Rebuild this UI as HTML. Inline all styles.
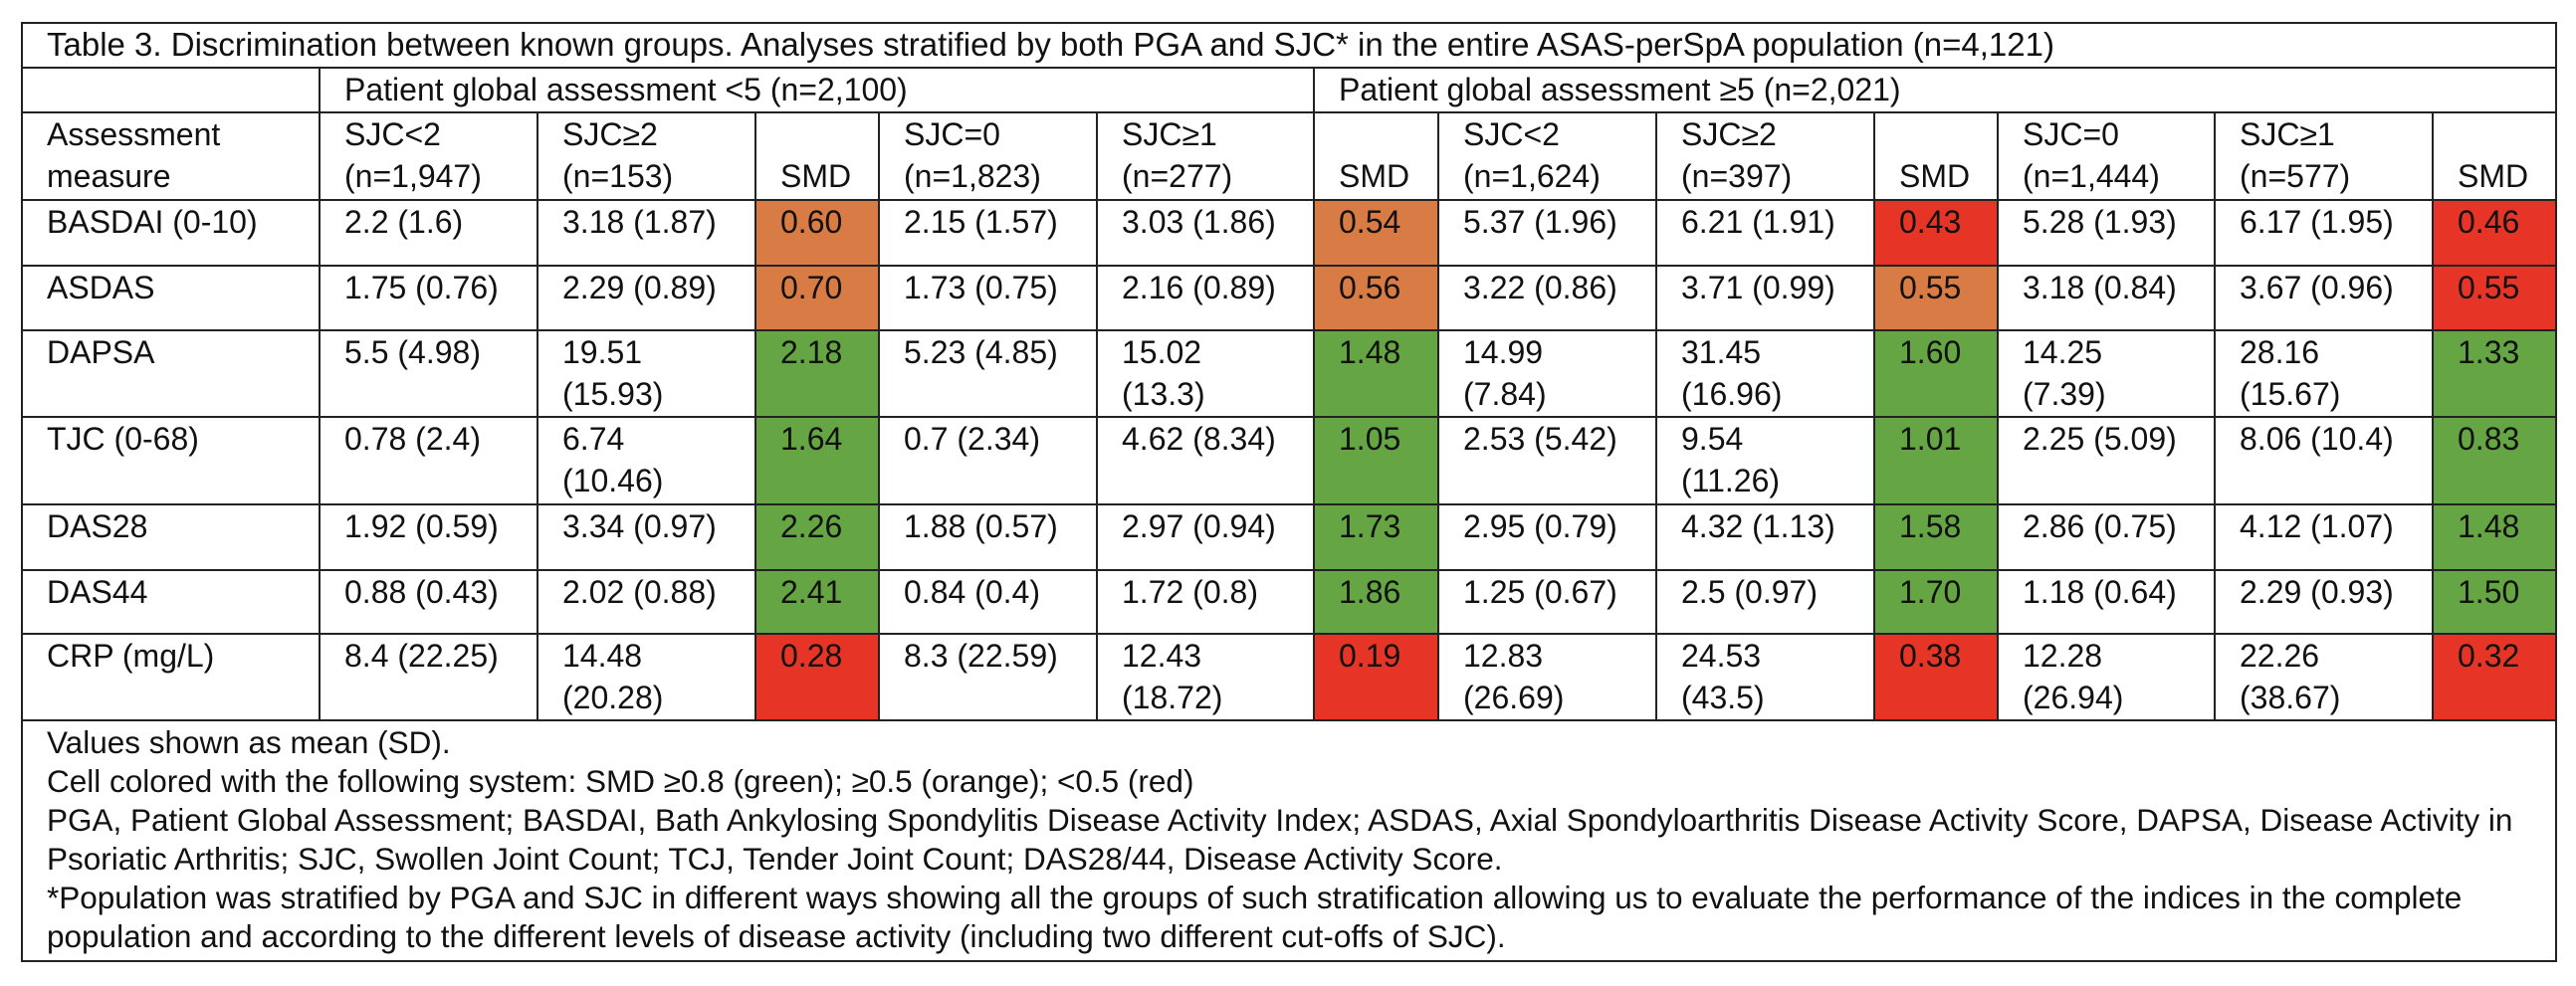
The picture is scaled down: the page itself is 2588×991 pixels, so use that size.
<!DOCTYPE html>
<html><head><meta charset="utf-8"><style>
html,body{margin:0;padding:0;background:#fff;width:2588px;height:991px;overflow:hidden}
table{position:absolute;left:21px;top:22px;border-collapse:collapse;table-layout:fixed;width:2546px;font-family:"Liberation Sans",sans-serif;font-size:32px;color:#111}
td{border:2px solid #222;padding:0 0 0 24px;vertical-align:top;line-height:42px;white-space:nowrap;overflow:hidden}
.o{background:#d97b45}.r{background:#e63526}.g{background:#66a544}
.foot{line-height:39px;padding-top:2px;font-size:31.5px}
</style></head><body>
<table>
<colgroup><col style="width:299px"><col style="width:219px"><col style="width:219px"><col style="width:124px"><col style="width:219px"><col style="width:218px"><col style="width:125px"><col style="width:219px"><col style="width:219px"><col style="width:124px"><col style="width:218px"><col style="width:219px"><col style="width:124px"></colgroup>
<tr style="height:45px"><td colspan="13" style="font-size:33px">Table 3. Discrimination between known groups. Analyses stratified by both PGA and SJC* in the entire ASAS-perSpA population (n=4,121)</td></tr>
<tr style="height:45px"><td></td><td colspan="5">Patient global assessment &lt;5 (n=2,100)</td><td colspan="7">Patient global assessment ≥5 (n=2,021)</td></tr>
<tr style="height:88px"><td>Assessment<br>measure</td><td>SJC&lt;2<br>(n=1,947)</td><td>SJC≥2<br>(n=153)</td><td><br>SMD</td><td>SJC=0<br>(n=1,823)</td><td>SJC≥1<br>(n=277)</td><td><br>SMD</td><td>SJC&lt;2<br>(n=1,624)</td><td>SJC≥2<br>(n=397)</td><td><br>SMD</td><td>SJC=0<br>(n=1,444)</td><td>SJC≥1<br>(n=577)</td><td><br>SMD</td></tr>
<tr style="height:66px"><td>BASDAI (0-10)</td><td>2.2 (1.6)</td><td>3.18 (1.87)</td><td class="o">0.60</td><td>2.15 (1.57)</td><td>3.03 (1.86)</td><td class="o">0.54</td><td>5.37 (1.96)</td><td>6.21 (1.91)</td><td class="r">0.43</td><td>5.28 (1.93)</td><td>6.17 (1.95)</td><td class="r">0.46</td></tr>
<tr style="height:65px"><td>ASDAS</td><td>1.75 (0.76)</td><td>2.29 (0.89)</td><td class="o">0.70</td><td>1.73 (0.75)</td><td>2.16 (0.89)</td><td class="o">0.56</td><td>3.22 (0.86)</td><td>3.71 (0.99)</td><td class="o">0.55</td><td>3.18 (0.84)</td><td>3.67 (0.96)</td><td class="r">0.55</td></tr>
<tr style="height:87px"><td>DAPSA</td><td>5.5 (4.98)</td><td>19.51<br>(15.93)</td><td class="g">2.18</td><td>5.23 (4.85)</td><td>15.02<br>(13.3)</td><td class="g">1.48</td><td>14.99<br>(7.84)</td><td>31.45<br>(16.96)</td><td class="g">1.60</td><td>14.25<br>(7.39)</td><td>28.16<br>(15.67)</td><td class="g">1.33</td></tr>
<tr style="height:88px"><td>TJC (0-68)</td><td>0.78 (2.4)</td><td>6.74<br>(10.46)</td><td class="g">1.64</td><td>0.7 (2.34)</td><td>4.62 (8.34)</td><td class="g">1.05</td><td>2.53 (5.42)</td><td>9.54<br>(11.26)</td><td class="g">1.01</td><td>2.25 (5.09)</td><td>8.06 (10.4)</td><td class="g">0.83</td></tr>
<tr style="height:66px"><td>DAS28</td><td>1.92 (0.59)</td><td>3.34 (0.97)</td><td class="g">2.26</td><td>1.88 (0.57)</td><td>2.97 (0.94)</td><td class="g">1.73</td><td>2.95 (0.79)</td><td>4.32 (1.13)</td><td class="g">1.58</td><td>2.86 (0.75)</td><td>4.12 (1.07)</td><td class="g">1.48</td></tr>
<tr style="height:64px"><td>DAS44</td><td>0.88 (0.43)</td><td>2.02 (0.88)</td><td class="g">2.41</td><td>0.84 (0.4)</td><td>1.72 (0.8)</td><td class="g">1.86</td><td>1.25 (0.67)</td><td>2.5 (0.97)</td><td class="g">1.70</td><td>1.18 (0.64)</td><td>2.29 (0.93)</td><td class="g">1.50</td></tr>
<tr style="height:87px"><td>CRP (mg/L)</td><td>8.4 (22.25)</td><td>14.48<br>(20.28)</td><td class="r">0.28</td><td>8.3 (22.59)</td><td>12.43<br>(18.72)</td><td class="r">0.19</td><td>12.83<br>(26.69)</td><td>24.53<br>(43.5)</td><td class="r">0.38</td><td>12.28<br>(26.94)</td><td>22.26<br>(38.67)</td><td class="r">0.32</td></tr>
<tr style="height:242px"><td colspan="13" class="foot">Values shown as mean (SD).<br>Cell colored with the following system: SMD ≥0.8 (green); ≥0.5 (orange); &lt;0.5 (red)<br>PGA, Patient Global Assessment; BASDAI, Bath Ankylosing Spondylitis Disease Activity Index; ASDAS, Axial Spondyloarthritis Disease Activity Score, DAPSA, Disease Activity in<br>Psoriatic Arthritis; SJC, Swollen Joint Count; TCJ, Tender Joint Count; DAS28/44, Disease Activity Score.<br>*Population was stratified by PGA and SJC in different ways showing all the groups of such stratification allowing us to evaluate the performance of the indices in the complete<br>population and according to the different levels of disease activity (including two different cut-offs of SJC).</td></tr>
</table>
</body></html>
